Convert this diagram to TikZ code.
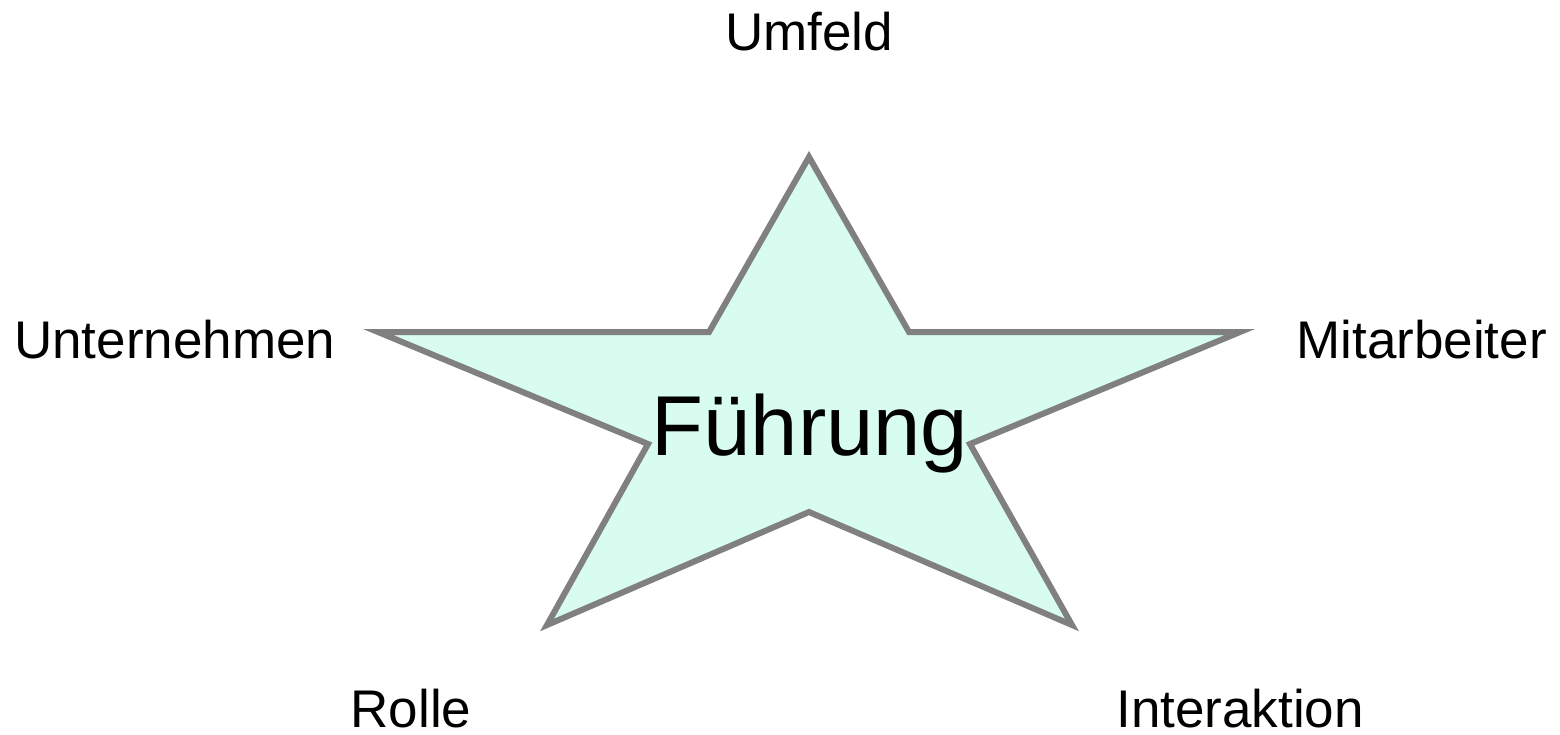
\documentclass[tikz,border=0pt]{standalone}
\usepackage{fontspec}
\setmainfont{Liberation Sans}
\definecolor{starfill}{HTML}{D8FCEF}
\definecolor{stargray}{HTML}{808080}
\begin{document}
\begin{tikzpicture}[x=1pt,y=-1pt,
  lbl/.style={anchor=base,inner sep=0pt,font=\fontsize{53}{60}\selectfont},
  big/.style={anchor=base,inner sep=0pt,font=\fontsize{85}{96}\selectfont},
  starline/.style={draw=stargray,fill=starfill,line width=6pt,line join=miter}]
\useasboundingbox (0,0) rectangle (1560,734);
\draw[starline] (809,157) -- (909,332) -- (1240,332) -- (970,444) -- (1072,625)
  -- (809,512) -- (547,625) -- (648,444) -- (378,332) -- (709,332) -- cycle;
\node[big] (center) at (810,455) {Führung};
\node[lbl] (umfeld) at (809,50) {Umfeld};
\node[lbl,anchor=base west] (unternehmen) at (14,358) {Unternehmen};
\node[lbl,anchor=base east] (mitarbeiter) at (1547,358) {Mitarbeiter};
\node[lbl] (rolle) at (411,727) {Rolle};
\node[lbl] (interaktion) at (1240,727) {Interaktion};
\end{tikzpicture}
\end{document}
